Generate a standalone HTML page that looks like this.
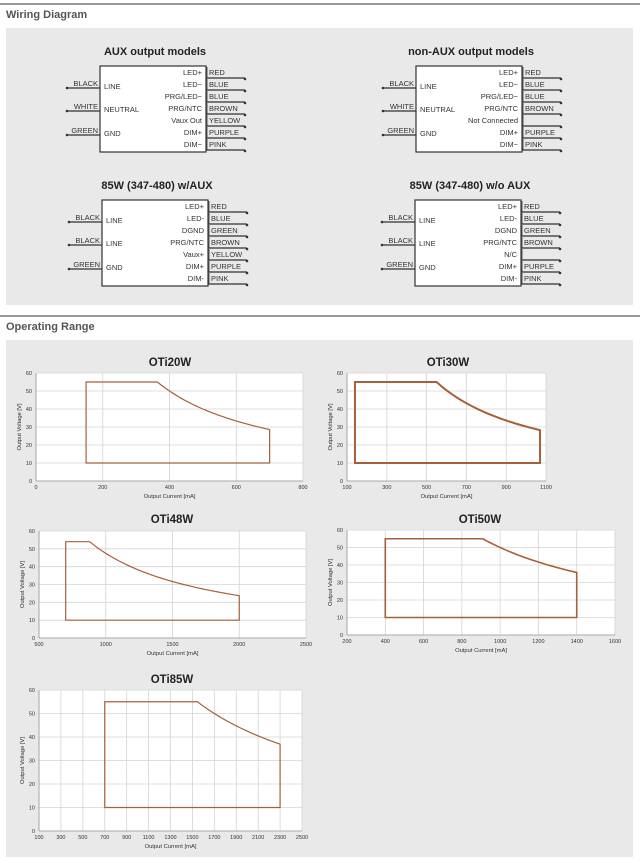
<!DOCTYPE html>
<html><head><meta charset="utf-8"><style>
html,body{margin:0;padding:0;background:#fff;}
svg{display:block;font-family:"Liberation Sans",sans-serif;}
</style></head><body>
<svg id="s" width="640" height="863" viewBox="0 0 640 863" xmlns="http://www.w3.org/2000/svg">
<rect x="0" y="0" width="640" height="863" fill="#fff"/>
<rect x="0" y="3" width="640" height="2" fill="#999"/>
<text x="6" y="18" font-size="11" font-weight="bold" fill="#555">Wiring Diagram</text>
<rect x="6" y="28" width="627" height="277" fill="#e9e9e9"/>
<rect x="0" y="315" width="640" height="2" fill="#999"/>
<text x="6" y="330" font-size="11" font-weight="bold" fill="#555">Operating Range</text>
<rect x="6" y="340" width="627" height="517" fill="#e9e9e9"/>
<g id="g"></g>
</svg>
<script>
var NS="http://www.w3.org/2000/svg",G=document.getElementById("g");
function el(t,a,txt){var e=document.createElementNS(NS,t);for(var k in a)e.setAttribute(k,a[k]);if(txt!=null)e.textContent=txt;G.appendChild(e);return e;}
function wd(bx,by,title,outer,inner,rin,rcol){
 el("text",{x:bx+55,y:by-11,"font-size":11,"font-weight":"bold","text-anchor":"middle",fill:"#222"},title);
 el("rect",{x:bx,y:by,width:106,height:86,fill:"#fff",stroke:"#333","stroke-width":1.2});
 var ly=[22,45,69];
 for(var i=0;i<3;i++){var y=by+ly[i];
  el("line",{x1:bx-33,y1:y,x2:bx,y2:y,stroke:"#333","stroke-width":1.2});
  el("circle",{cx:bx-33,cy:y,r:1.3,fill:"#333"});
  el("text",{x:bx-2,y:y-2,"font-size":7.5,"text-anchor":"end",fill:"#333"},outer[i]);
  el("text",{x:bx+4,y:y+1,"font-size":7.5,fill:"#333"},inner[i]);}
 for(var k=0;k<7;k++){var y=by+12+12*k;
  el("text",{x:bx+102,y:y-3,"font-size":7.5,"text-anchor":"end",fill:"#333"},rin[k]);
  el("text",{x:bx+109,y:y-3,"font-size":7.5,fill:"#333"},rcol[k]);
  el("line",{x1:bx+106,y1:y,x2:bx+145,y2:y,stroke:"#333","stroke-width":1.2});
  el("line",{x1:bx+107,y1:y-11,x2:bx+107,y2:y,stroke:"#333","stroke-width":0.8});
  el("circle",{cx:bx+145,cy:y+1,r:1.3,fill:"#333"});}
}
var c1=["RED","BLUE","BLUE","BROWN","YELLOW","PURPLE","PINK"],c2=["RED","BLUE","BLUE","BROWN","","PURPLE","PINK"],
c3=["RED","BLUE","GREEN","BROWN","YELLOW","PURPLE","PINK"],c4=["RED","BLUE","GREEN","BROWN","","PURPLE","PINK"];
wd(100,66,"AUX output models",["BLACK","WHITE","GREEN"],["LINE","NEUTRAL","GND"],["LED+","LED−","PRG/LED−","PRG/NTC","Vaux Out","DIM+","DIM−"],c1);
wd(416,66,"non-AUX output models",["BLACK","WHITE","GREEN"],["LINE","NEUTRAL","GND"],["LED+","LED−","PRG/LED−","PRG/NTC","Not Connected","DIM+","DIM−"],c2);
wd(102,200,"85W (347-480) w/AUX",["BLACK","BLACK","GREEN"],["LINE","LINE","GND"],["LED+","LED-","DGND","PRG/NTC","Vaux+","DIM+","DIM-"],c3);
wd(415,200,"85W (347-480) w/o AUX",["BLACK","BLACK","GREEN"],["LINE","LINE","GND"],["LED+","LED-","DGND","PRG/NTC","N/C","DIM+","DIM-"],c4);

function chart(x0,y0,x1,y1,xmin,xmax,xs,Imin,Imax,Vhi,P,title,tx,ty,sw){
 el("text",{x:tx,y:ty,"font-size":11.5,"font-weight":"bold","text-anchor":"middle",fill:"#222"},title);
 el("rect",{x:x0,y:y0,width:x1-x0,height:y1-y0,fill:"#fff"});
 function X(i){return x0+(i-xmin)/(xmax-xmin)*(x1-x0);}
 function Y(v){return y1-v/60*(y1-y0);}
 for(var v=0;v<=60;v+=10){el("line",{x1:x0,y1:Y(v),x2:x1,y2:Y(v),stroke:"#d4d4d4","stroke-width":0.8});
  el("text",{x:x0-4,y:Y(v)+2,"font-size":5.5,"text-anchor":"end",fill:"#333"},v);}
 for(var i=xmin;i<=xmax+0.1;i+=xs){el("line",{x1:X(i),y1:y0,x2:X(i),y2:y1,stroke:"#d4d4d4","stroke-width":0.8});
  el("text",{x:X(i),y:y1+8,"font-size":5.5,"text-anchor":"middle",fill:"#333"},i);}
 el("line",{x1:x0,y1:y0,x2:x0,y2:y1,stroke:"#999","stroke-width":0.8});
 el("line",{x1:x0,y1:y1,x2:x1,y2:y1,stroke:"#999","stroke-width":0.8});
 el("text",{x:(x0+x1)/2,y:y1+17,"font-size":5.8,"text-anchor":"middle",fill:"#333"},"Output Current [mA]");
 var yc=(y0+y1)/2,xl=x0-15;
 el("text",{x:xl,y:yc,"font-size":5.8,"text-anchor":"middle",fill:"#333",transform:"rotate(-90 "+xl+" "+yc+")"},"Output Voltage [V]");
 var kn=P/Vhi,d="M"+X(Imin)+" "+Y(10)+"L"+X(Imin)+" "+Y(Vhi)+"L"+X(kn)+" "+Y(Vhi);
 for(var i=kn;i<=Imax;i+=(Imax-kn)/40)d+="L"+X(i).toFixed(2)+" "+Y(P/i).toFixed(2);
 d+="L"+X(Imax)+" "+Y(P/Imax)+"L"+X(Imax)+" "+Y(10)+"Z";
 el("path",{d:d,fill:"none",stroke:"#a5603a","stroke-width":sw});
}
chart(36,373,303,481,0,800,200,150,700,55,20000,"OTi20W",170,366,1.2);
chart(347,373,546,481,100,1100,200,140,1070,55,30250,"OTi30W",448,366,2);
chart(39,531,306,638,500,2500,500,700,2000,54,47500,"OTi48W",172,523,1.2);
chart(347,530,615,635,200,1600,200,400,1400,55,50000,"OTi50W",480,523,1.6);
chart(39,690,302,831,100,2500,200,700,2300,55,85000,"OTi85W",172,683,1.2);
</script>
</body></html>
